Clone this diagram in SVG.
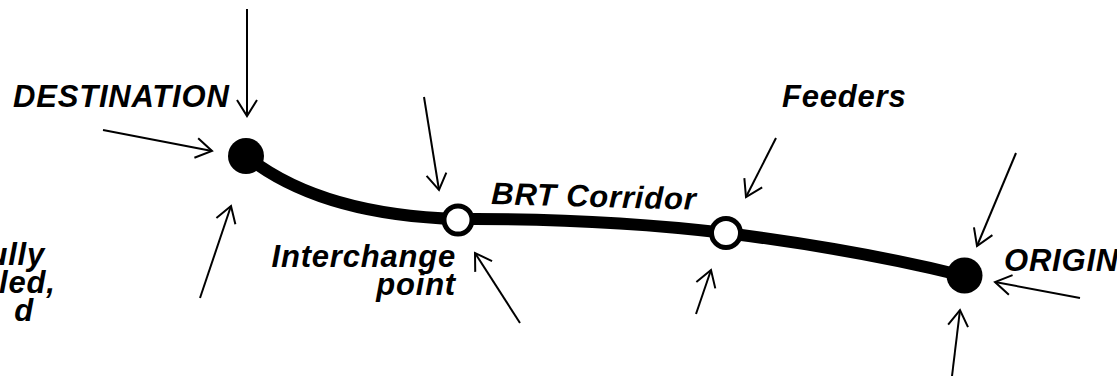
<svg xmlns="http://www.w3.org/2000/svg" width="1117" height="376" viewBox="0 0 1117 376">
<style>
.lbl{font-family:"Liberation Sans",Arial,sans-serif;font-weight:bold;font-style:italic;font-size:31px;letter-spacing:0.8px;fill:#000}
.arr{fill:none;stroke:#000;stroke-width:2;marker-end:url(#ah)}
.corr{fill:none;stroke:#000;stroke-width:12;stroke-linecap:round}
.term{fill:#000}
.stop{fill:#fff;stroke:#000;stroke-width:5}
</style>
<defs>
<marker id="ah" markerUnits="userSpaceOnUse" markerWidth="40" markerHeight="40" viewBox="-20 -20 40 40" refX="0" refY="0" orient="auto">
<path d="M-16,-10 L0,0 L-16,10" fill="none" stroke="#000" stroke-width="2"/>
</marker>
</defs>
<rect width="1117" height="376" fill="#fff"/>
<g id="corridor">
<path class="corr" d="M246,156 Q320,215 458,219"/>
<path class="corr" d="M458,219 Q600,218 726,233"/>
<path class="corr" d="M726,233 Q860,250 964,276"/>
</g>
<g id="connectors">
<path class="arr" d="M247,9 L247,116"/>
<path class="arr" d="M103,130 L212,151"/>
<path class="arr" d="M200,298 L231,206"/>
<path class="arr" d="M424,97 L439,190"/>
<path class="arr" d="M520,323 L475,253"/>
<path class="arr" d="M696,314 L711,270"/>
<path class="arr" d="M776,138 L746,197"/>
<path class="arr" d="M1016,153 L977,246"/>
<path class="arr" d="M1080,298 L995,282"/>
<path class="arr" d="M952,376 L960,310"/>
</g>
<g id="destination">
<circle class="term" cx="246" cy="156" r="18"/>
<text class="lbl" x="13" y="107">DESTINATION</text>
</g>
<g id="interchange">
<circle class="stop" cx="458" cy="220" r="14"/>
<text class="lbl" x="456" y="267" text-anchor="end">Interchange</text>
<text class="lbl" x="456" y="295" text-anchor="end">point</text>
</g>
<g id="stop2">
<circle class="stop" cx="726" cy="233" r="14.5"/>
</g>
<g id="origin">
<circle class="term" cx="964.5" cy="275.5" r="18"/>
<text class="lbl" x="1004" y="271">ORIGIN</text>
</g>
<g id="labels">
<text class="lbl" x="491" y="204" transform="rotate(1.6 491 204)">BRT Corridor</text>
<text class="lbl" x="782" y="107">Feeders</text>
<text class="lbl" x="45" y="265" text-anchor="end">ully</text>
<text class="lbl" x="-1" y="293">led,</text>
<text class="lbl" x="34" y="321" text-anchor="end">d</text>
</g>
</svg>
